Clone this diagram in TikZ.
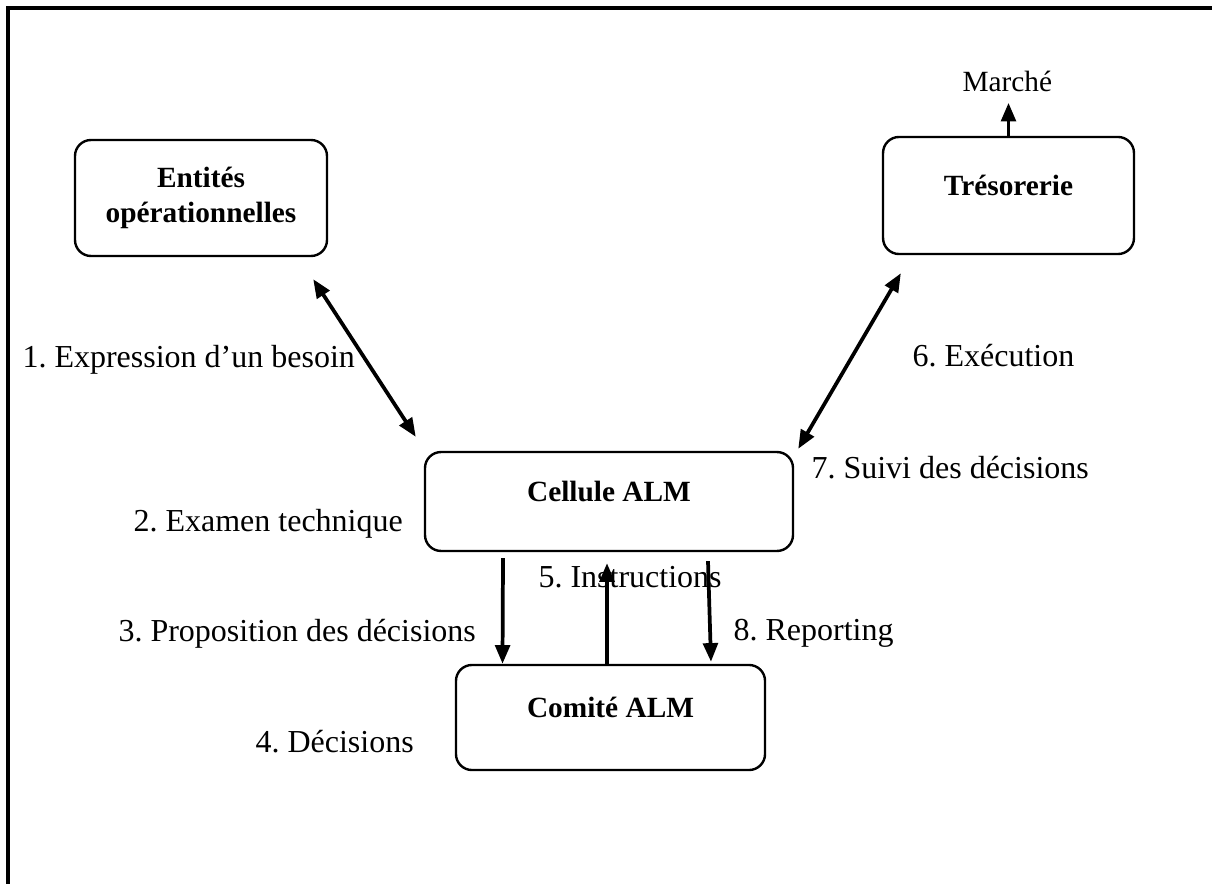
\documentclass[tikz,border=0pt]{standalone}
\usepackage{fontspec}
\setmainfont{Liberation Serif}
\usetikzlibrary{arrows.meta,calc}
\frenchspacing

\begin{document}
\begin{tikzpicture}[x=0.375pt,y=-0.375pt,
    boite/.style={draw,line width=0.9pt,rounded corners=6pt,align=center,font=\bfseries\fontsize{11}{13}\selectfont},
    une_ligne/.style={text height=4pt,text depth=4pt},
    etiq/.style={anchor=base west,inner sep=0pt,font=\fontsize{12}{14}\selectfont},
    fleche/.style={line width=1.4pt,-{Triangle[length=7pt,width=5.5pt]}},
    fleche2/.style={line width=1.4pt,{Triangle[length=7pt,width=5.5pt]}-{Triangle[length=7pt,width=5.5pt]}}]
    \useasboundingbox (0,0) rectangle (1212,884);
    \draw[line width=1.2pt] (1212,8) -- (8,8) -- (8,884);

    % boites
    \node[boite,minimum width=94.5pt,minimum height=43.5pt] (entites) at (201,198) {Entités\\opérationnelles};
    \node[boite,une_ligne,minimum width=94.1pt,minimum height=43.9pt] (treso) at (1008.5,195.5) {Trésorerie};
    \node[boite,une_ligne,minimum width=138pt,minimum height=37.1pt] (cellule) at (609,501.5) {Cellule ALM};
    \node[boite,une_ligne,minimum width=115.9pt,minimum height=39.4pt] (comite) at (610.5,717.5) {Comité ALM};
    \node[etiq,font=\fontsize{11}{13}\selectfont] (marche) at (962,92) {Marché};

    % etiquettes
    \node[etiq] (l1) at (22,367) {1. Expression d’un besoin};
    \node[etiq] (l2) at (133,531) {2. Examen technique};
    \node[etiq] (l3) at (118,641) {3. Proposition des décisions};
    \node[etiq] (l4) at (255,752) {4. Décisions};
    \node[etiq] (l5) at (538,587) {5. Instructions};
    \node[etiq] (l6) at (912,366) {6. Exécution};
    \node[etiq] (l7) at (811,478) {7. Suivi des décisions};
    \node[etiq] (l8) at (733,640) {8. Reporting};

    % fleches
    \draw[fleche2] ($(entites.south east)+(-15,22)$) -- ($(cellule.north west)+(-8,-14)$);
    \draw[fleche2] ($(treso.south west)+(19,18)$) -- ($(cellule.north east)+(4,-2)$);
    \draw[fleche] (treso.north) -- ($(treso.north |- marche.south)+(0,10)$);
    \draw[fleche] ($(cellule.south)+(-106,6)$) -- ($(comite.north)+(-108,0)$);
    \draw[fleche] ($(comite.north)+(-3.5,0)$) -- ($(cellule.south)+(-2,11)$);
    \draw[fleche] ($(cellule.south)+(99,9)$) -- ($(comite.north)+(100.5,-2)$);
\end{tikzpicture}
\end{document}
